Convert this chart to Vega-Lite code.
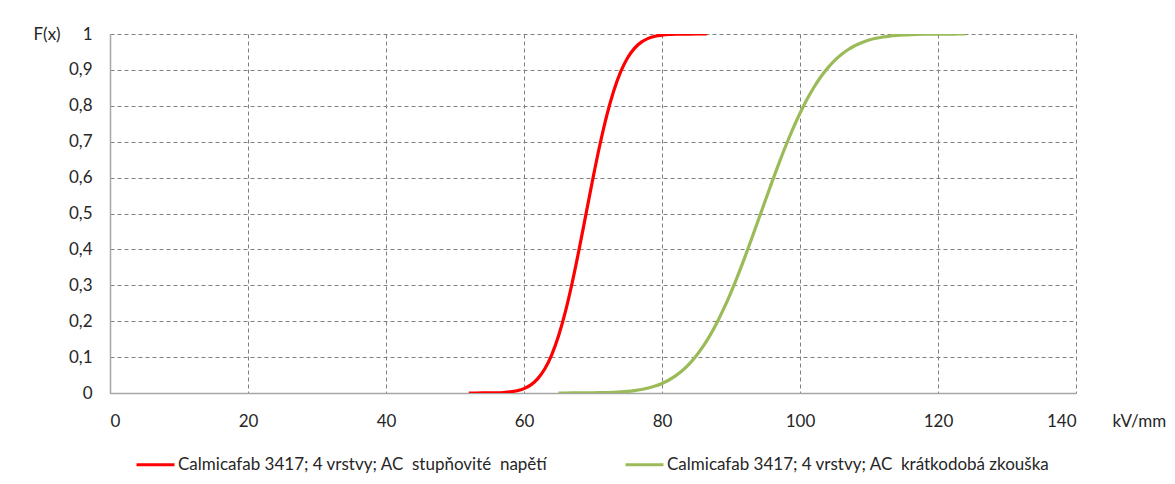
{
  "$schema": "https://vega.github.io/schema/vega-lite/v6.json",
  "autosize": {"type": "none"},
  "padding": {"left": 110, "top": 34, "right": 99, "bottom": 91},
  "width": 966,
  "height": 359,
  "background": "#ffffff",
  "config": {
    "locale": {"number": {"decimal": ",", "thousands": " ", "grouping": [3], "currency": ["", " Kč"]}},
    "font": "Lato",
    "view": {"stroke": null},
    "axis": {
      "labelFont": "Lato",
      "labelFontSize": 17,
      "labelColor": "#262626",
      "titleFont": "Lato",
      "titleFontSize": 17,
      "titleFontWeight": "normal",
      "titleColor": "#262626",
      "ticks": false,
      "domainColor": "#a6a6a6",
      "domainWidth": 1.5,
      "gridColor": "#808080",
      "gridWidth": 1,
      "gridDash": [4, 3]
    },
    "legend": {
      "labelFont": "Lato",
      "labelFontSize": 17,
      "labelColor": "#262626"
    }
  },
  "data": {
    "values": [
      {"serie": "Calmicafab 3417; 4 vrstvy; AC\u00a0 stupňovité\u00a0 napětí", "kv": 52, "F": 0.00001},
      {"serie": "Calmicafab 3417; 4 vrstvy; AC\u00a0 stupňovité\u00a0 napětí", "kv": 53, "F": 0.00003},
      {"serie": "Calmicafab 3417; 4 vrstvy; AC\u00a0 stupňovité\u00a0 napětí", "kv": 54, "F": 0.00009},
      {"serie": "Calmicafab 3417; 4 vrstvy; AC\u00a0 stupňovité\u00a0 napětí", "kv": 55, "F": 0.00023},
      {"serie": "Calmicafab 3417; 4 vrstvy; AC\u00a0 stupňovité\u00a0 napětí", "kv": 56, "F": 0.00058},
      {"serie": "Calmicafab 3417; 4 vrstvy; AC\u00a0 stupňovité\u00a0 napětí", "kv": 57, "F": 0.00135},
      {"serie": "Calmicafab 3417; 4 vrstvy; AC\u00a0 stupňovité\u00a0 napětí", "kv": 58, "F": 0.00298},
      {"serie": "Calmicafab 3417; 4 vrstvy; AC\u00a0 stupňovité\u00a0 napětí", "kv": 59, "F": 0.00621},
      {"serie": "Calmicafab 3417; 4 vrstvy; AC\u00a0 stupňovité\u00a0 napětí", "kv": 60, "F": 0.01222},
      {"serie": "Calmicafab 3417; 4 vrstvy; AC\u00a0 stupňovité\u00a0 napětí", "kv": 61, "F": 0.02275},
      {"serie": "Calmicafab 3417; 4 vrstvy; AC\u00a0 stupňovité\u00a0 napětí", "kv": 62, "F": 0.04006},
      {"serie": "Calmicafab 3417; 4 vrstvy; AC\u00a0 stupňovité\u00a0 napětí", "kv": 63, "F": 0.06681},
      {"serie": "Calmicafab 3417; 4 vrstvy; AC\u00a0 stupňovité\u00a0 napětí", "kv": 64, "F": 0.10565},
      {"serie": "Calmicafab 3417; 4 vrstvy; AC\u00a0 stupňovité\u00a0 napětí", "kv": 65, "F": 0.15866},
      {"serie": "Calmicafab 3417; 4 vrstvy; AC\u00a0 stupňovité\u00a0 napětí", "kv": 66, "F": 0.22663},
      {"serie": "Calmicafab 3417; 4 vrstvy; AC\u00a0 stupňovité\u00a0 napětí", "kv": 67, "F": 0.30854},
      {"serie": "Calmicafab 3417; 4 vrstvy; AC\u00a0 stupňovité\u00a0 napětí", "kv": 68, "F": 0.40129},
      {"serie": "Calmicafab 3417; 4 vrstvy; AC\u00a0 stupňovité\u00a0 napětí", "kv": 69, "F": 0.5},
      {"serie": "Calmicafab 3417; 4 vrstvy; AC\u00a0 stupňovité\u00a0 napětí", "kv": 70, "F": 0.59871},
      {"serie": "Calmicafab 3417; 4 vrstvy; AC\u00a0 stupňovité\u00a0 napětí", "kv": 71, "F": 0.69146},
      {"serie": "Calmicafab 3417; 4 vrstvy; AC\u00a0 stupňovité\u00a0 napětí", "kv": 72, "F": 0.77337},
      {"serie": "Calmicafab 3417; 4 vrstvy; AC\u00a0 stupňovité\u00a0 napětí", "kv": 73, "F": 0.84134},
      {"serie": "Calmicafab 3417; 4 vrstvy; AC\u00a0 stupňovité\u00a0 napětí", "kv": 74, "F": 0.89435},
      {"serie": "Calmicafab 3417; 4 vrstvy; AC\u00a0 stupňovité\u00a0 napětí", "kv": 75, "F": 0.93319},
      {"serie": "Calmicafab 3417; 4 vrstvy; AC\u00a0 stupňovité\u00a0 napětí", "kv": 76, "F": 0.95994},
      {"serie": "Calmicafab 3417; 4 vrstvy; AC\u00a0 stupňovité\u00a0 napětí", "kv": 77, "F": 0.97725},
      {"serie": "Calmicafab 3417; 4 vrstvy; AC\u00a0 stupňovité\u00a0 napětí", "kv": 78, "F": 0.98778},
      {"serie": "Calmicafab 3417; 4 vrstvy; AC\u00a0 stupňovité\u00a0 napětí", "kv": 79, "F": 0.99379},
      {"serie": "Calmicafab 3417; 4 vrstvy; AC\u00a0 stupňovité\u00a0 napětí", "kv": 80, "F": 0.99702},
      {"serie": "Calmicafab 3417; 4 vrstvy; AC\u00a0 stupňovité\u00a0 napětí", "kv": 81, "F": 0.99865},
      {"serie": "Calmicafab 3417; 4 vrstvy; AC\u00a0 stupňovité\u00a0 napětí", "kv": 82, "F": 0.99942},
      {"serie": "Calmicafab 3417; 4 vrstvy; AC\u00a0 stupňovité\u00a0 napětí", "kv": 83, "F": 0.99977},
      {"serie": "Calmicafab 3417; 4 vrstvy; AC\u00a0 stupňovité\u00a0 napětí", "kv": 84, "F": 0.99991},
      {"serie": "Calmicafab 3417; 4 vrstvy; AC\u00a0 stupňovité\u00a0 napětí", "kv": 85, "F": 0.99997},
      {"serie": "Calmicafab 3417; 4 vrstvy; AC\u00a0 stupňovité\u00a0 napětí", "kv": 86, "F": 0.99999},
      {"serie": "Calmicafab 3417; 4 vrstvy; AC\u00a0 stupňovité\u00a0 napětí", "kv": 86.5, "F": 1.0},
      {"serie": "Calmicafab 3417; 4 vrstvy; AC\u00a0 krátkodobá zkouška", "kv": 65, "F": 0.00004},
      {"serie": "Calmicafab 3417; 4 vrstvy; AC\u00a0 krátkodobá zkouška", "kv": 66, "F": 0.00007},
      {"serie": "Calmicafab 3417; 4 vrstvy; AC\u00a0 krátkodobá zkouška", "kv": 67, "F": 0.00011},
      {"serie": "Calmicafab 3417; 4 vrstvy; AC\u00a0 krátkodobá zkouška", "kv": 68, "F": 0.00019},
      {"serie": "Calmicafab 3417; 4 vrstvy; AC\u00a0 krátkodobá zkouška", "kv": 69, "F": 0.00031},
      {"serie": "Calmicafab 3417; 4 vrstvy; AC\u00a0 krátkodobá zkouška", "kv": 70, "F": 0.00051},
      {"serie": "Calmicafab 3417; 4 vrstvy; AC\u00a0 krátkodobá zkouška", "kv": 71, "F": 0.00082},
      {"serie": "Calmicafab 3417; 4 vrstvy; AC\u00a0 krátkodobá zkouška", "kv": 72, "F": 0.00129},
      {"serie": "Calmicafab 3417; 4 vrstvy; AC\u00a0 krátkodobá zkouška", "kv": 73, "F": 0.002},
      {"serie": "Calmicafab 3417; 4 vrstvy; AC\u00a0 krátkodobá zkouška", "kv": 74, "F": 0.00305},
      {"serie": "Calmicafab 3417; 4 vrstvy; AC\u00a0 krátkodobá zkouška", "kv": 75, "F": 0.00455},
      {"serie": "Calmicafab 3417; 4 vrstvy; AC\u00a0 krátkodobá zkouška", "kv": 76, "F": 0.0067},
      {"serie": "Calmicafab 3417; 4 vrstvy; AC\u00a0 krátkodobá zkouška", "kv": 77, "F": 0.0097},
      {"serie": "Calmicafab 3417; 4 vrstvy; AC\u00a0 krátkodobá zkouška", "kv": 78, "F": 0.0138},
      {"serie": "Calmicafab 3417; 4 vrstvy; AC\u00a0 krátkodobá zkouška", "kv": 79, "F": 0.0193},
      {"serie": "Calmicafab 3417; 4 vrstvy; AC\u00a0 krátkodobá zkouška", "kv": 80, "F": 0.0267},
      {"serie": "Calmicafab 3417; 4 vrstvy; AC\u00a0 krátkodobá zkouška", "kv": 81, "F": 0.0362},
      {"serie": "Calmicafab 3417; 4 vrstvy; AC\u00a0 krátkodobá zkouška", "kv": 82, "F": 0.0483},
      {"serie": "Calmicafab 3417; 4 vrstvy; AC\u00a0 krátkodobá zkouška", "kv": 83, "F": 0.0634},
      {"serie": "Calmicafab 3417; 4 vrstvy; AC\u00a0 krátkodobá zkouška", "kv": 84, "F": 0.082},
      {"serie": "Calmicafab 3417; 4 vrstvy; AC\u00a0 krátkodobá zkouška", "kv": 85, "F": 0.1044},
      {"serie": "Calmicafab 3417; 4 vrstvy; AC\u00a0 krátkodobá zkouška", "kv": 86, "F": 0.131},
      {"serie": "Calmicafab 3417; 4 vrstvy; AC\u00a0 krátkodobá zkouška", "kv": 87, "F": 0.162},
      {"serie": "Calmicafab 3417; 4 vrstvy; AC\u00a0 krátkodobá zkouška", "kv": 88, "F": 0.1973},
      {"serie": "Calmicafab 3417; 4 vrstvy; AC\u00a0 krátkodobá zkouška", "kv": 89, "F": 0.237},
      {"serie": "Calmicafab 3417; 4 vrstvy; AC\u00a0 krátkodobá zkouška", "kv": 90, "F": 0.2806},
      {"serie": "Calmicafab 3417; 4 vrstvy; AC\u00a0 krátkodobá zkouška", "kv": 91, "F": 0.3278},
      {"serie": "Calmicafab 3417; 4 vrstvy; AC\u00a0 krátkodobá zkouška", "kv": 92, "F": 0.3779},
      {"serie": "Calmicafab 3417; 4 vrstvy; AC\u00a0 krátkodobá zkouška", "kv": 93, "F": 0.4302},
      {"serie": "Calmicafab 3417; 4 vrstvy; AC\u00a0 krátkodobá zkouška", "kv": 94, "F": 0.4838},
      {"serie": "Calmicafab 3417; 4 vrstvy; AC\u00a0 krátkodobá zkouška", "kv": 95, "F": 0.5377},
      {"serie": "Calmicafab 3417; 4 vrstvy; AC\u00a0 krátkodobá zkouška", "kv": 96, "F": 0.5909},
      {"serie": "Calmicafab 3417; 4 vrstvy; AC\u00a0 krátkodobá zkouška", "kv": 97, "F": 0.6424},
      {"serie": "Calmicafab 3417; 4 vrstvy; AC\u00a0 krátkodobá zkouška", "kv": 98, "F": 0.6915},
      {"serie": "Calmicafab 3417; 4 vrstvy; AC\u00a0 krátkodobá zkouška", "kv": 99, "F": 0.7373},
      {"serie": "Calmicafab 3417; 4 vrstvy; AC\u00a0 krátkodobá zkouška", "kv": 100, "F": 0.7794},
      {"serie": "Calmicafab 3417; 4 vrstvy; AC\u00a0 krátkodobá zkouška", "kv": 101, "F": 0.8174},
      {"serie": "Calmicafab 3417; 4 vrstvy; AC\u00a0 krátkodobá zkouška", "kv": 102, "F": 0.851},
      {"serie": "Calmicafab 3417; 4 vrstvy; AC\u00a0 krátkodobá zkouška", "kv": 103, "F": 0.8802},
      {"serie": "Calmicafab 3417; 4 vrstvy; AC\u00a0 krátkodobá zkouška", "kv": 104, "F": 0.905},
      {"serie": "Calmicafab 3417; 4 vrstvy; AC\u00a0 krátkodobá zkouška", "kv": 105, "F": 0.9259},
      {"serie": "Calmicafab 3417; 4 vrstvy; AC\u00a0 krátkodobá zkouška", "kv": 106, "F": 0.9431},
      {"serie": "Calmicafab 3417; 4 vrstvy; AC\u00a0 krátkodobá zkouška", "kv": 107, "F": 0.9569},
      {"serie": "Calmicafab 3417; 4 vrstvy; AC\u00a0 krátkodobá zkouška", "kv": 108, "F": 0.9679},
      {"serie": "Calmicafab 3417; 4 vrstvy; AC\u00a0 krátkodobá zkouška", "kv": 109, "F": 0.9765},
      {"serie": "Calmicafab 3417; 4 vrstvy; AC\u00a0 krátkodobá zkouška", "kv": 110, "F": 0.9831},
      {"serie": "Calmicafab 3417; 4 vrstvy; AC\u00a0 krátkodobá zkouška", "kv": 111, "F": 0.988},
      {"serie": "Calmicafab 3417; 4 vrstvy; AC\u00a0 krátkodobá zkouška", "kv": 112, "F": 0.9916},
      {"serie": "Calmicafab 3417; 4 vrstvy; AC\u00a0 krátkodobá zkouška", "kv": 113, "F": 0.9943},
      {"serie": "Calmicafab 3417; 4 vrstvy; AC\u00a0 krátkodobá zkouška", "kv": 114, "F": 0.9961},
      {"serie": "Calmicafab 3417; 4 vrstvy; AC\u00a0 krátkodobá zkouška", "kv": 115, "F": 0.9974},
      {"serie": "Calmicafab 3417; 4 vrstvy; AC\u00a0 krátkodobá zkouška", "kv": 116, "F": 0.9983},
      {"serie": "Calmicafab 3417; 4 vrstvy; AC\u00a0 krátkodobá zkouška", "kv": 117, "F": 0.9989},
      {"serie": "Calmicafab 3417; 4 vrstvy; AC\u00a0 krátkodobá zkouška", "kv": 118, "F": 0.9993},
      {"serie": "Calmicafab 3417; 4 vrstvy; AC\u00a0 krátkodobá zkouška", "kv": 119, "F": 0.9996},
      {"serie": "Calmicafab 3417; 4 vrstvy; AC\u00a0 krátkodobá zkouška", "kv": 120, "F": 0.9997},
      {"serie": "Calmicafab 3417; 4 vrstvy; AC\u00a0 krátkodobá zkouška", "kv": 121, "F": 0.9998},
      {"serie": "Calmicafab 3417; 4 vrstvy; AC\u00a0 krátkodobá zkouška", "kv": 122, "F": 0.9999},
      {"serie": "Calmicafab 3417; 4 vrstvy; AC\u00a0 krátkodobá zkouška", "kv": 123, "F": 0.99995},
      {"serie": "Calmicafab 3417; 4 vrstvy; AC\u00a0 krátkodobá zkouška", "kv": 124, "F": 0.99997}
    ]
  },
  "mark": {"type": "line", "strokeWidth": 3.2, "interpolate": "monotone", "clip": true},
  "encoding": {
    "x": {
      "field": "kv",
      "type": "quantitative",
      "scale": {"domain": [0, 140], "nice": false, "zero": false},
      "axis": {
        "values": [0, 20, 40, 60, 80, 100, 120, 140],
        "labelPadding": 20,
        "title": "kV/mm",
        "titleAngle": 0,
        "titleAnchor": "start",
        "titleAlign": "left",
        "titleBaseline": "middle",
        "titleX": 1002,
        "titleY": 28
      }
    },
    "y": {
      "field": "F",
      "type": "quantitative",
      "scale": {"domain": [0, 1], "nice": false},
      "axis": {
        "values": [0, 0.1, 0.2, 0.3, 0.4, 0.5, 0.6, 0.7, 0.8, 0.9, 1],
        "format": ".1~f",
        "labelPadding": 18,
        "title": "F(x)",
        "titleAngle": 0,
        "titleAlign": "left",
        "titleBaseline": "middle",
        "titleX": -77,
        "titleY": 0
      }
    },
    "color": {
      "field": "serie",
      "type": "nominal",
      "scale": {
        "domain": ["Calmicafab 3417; 4 vrstvy; AC\u00a0 stupňovité\u00a0 napětí", "Calmicafab 3417; 4 vrstvy; AC\u00a0 krátkodobá zkouška"],
        "range": ["#ff0000", "#9bbb59"]
      },
      "legend": {
        "title": null,
        "orient": "none",
        "direction": "horizontal",
        "legendX": 25,
        "legendY": 410,
        "symbolType": "stroke",
        "symbolSize": 1444,
        "symbolStrokeWidth": 3,
        "labelOffset": 2,
        "columnPadding": 71,
        "labelLimit": 600
      }
    }
  }
}
